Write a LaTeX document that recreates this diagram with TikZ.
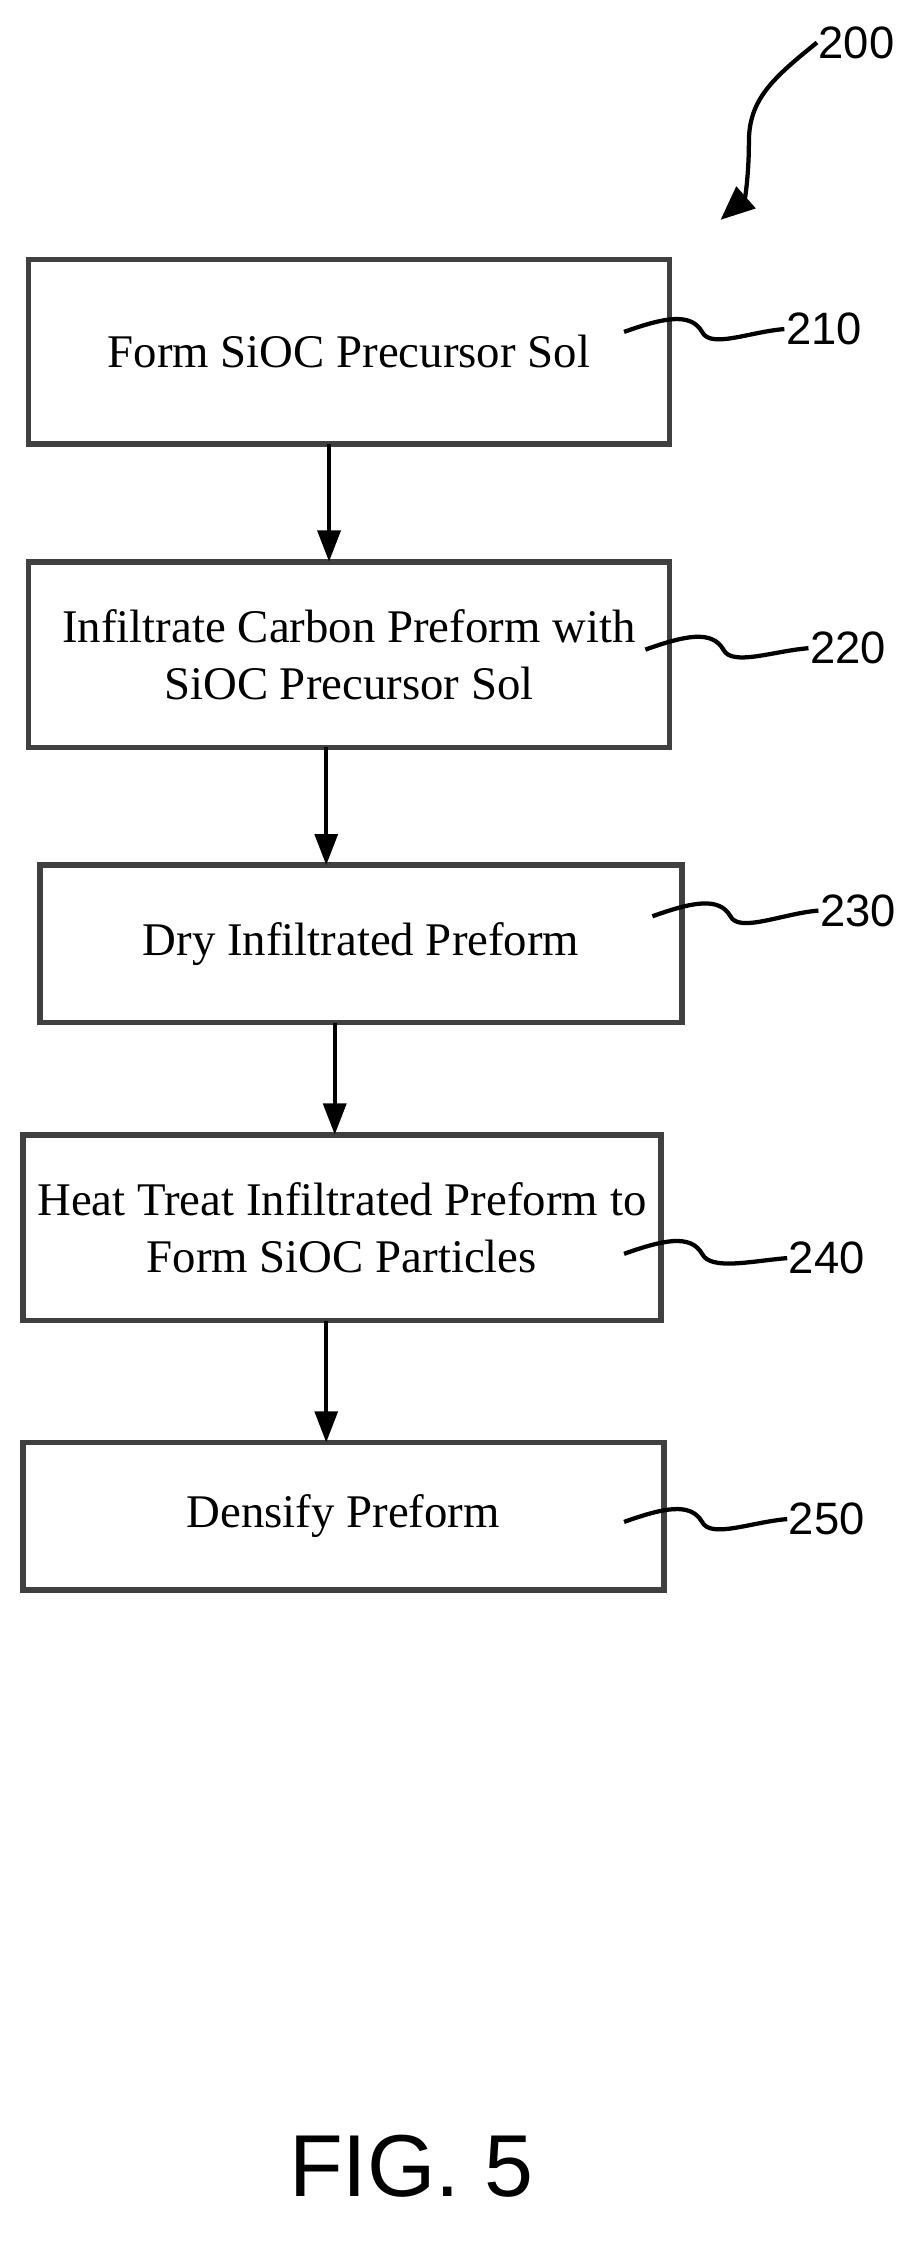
\documentclass[tikz,border=0pt]{standalone}
\usepackage{fontspec}
\setmainfont{Liberation Serif}
\setsansfont{Liberation Sans}
\usetikzlibrary{arrows.meta}
\begin{document}
\begin{tikzpicture}[x=1pt,y=-1pt,
  box/.style={draw=black!75,line width=4pt,inner sep=0pt,align=center,font=\fontsize{33}{40}\selectfont},
  arr/.style={line width=3pt,-{Triangle[length=22pt,width=16pt]}},
  sq/.style={line width=3pt},
  lab/.style={font=\sffamily\fontsize{32}{32}\selectfont,inner sep=1pt}]
\useasboundingbox (0,0) rectangle (650,1580);
\node[box,minimum width=452pt,minimum height=130pt] (b1) at (246,248) {Form SiOC Precursor Sol};
\node[box,minimum width=452pt,minimum height=131pt] (b2) at (246,461.5) {Infiltrate Carbon Preform with\\SiOC Precursor Sol};
\node[box,minimum width=453pt,minimum height=111pt] (b3) at (254.5,665.5) {Dry Infiltrated Preform};
\node[box,minimum width=450pt,minimum height=131pt] (b4) at (241,865.5) {Heat Treat Infiltrated Preform to\\Form SiOC Particles};
\node[box,minimum width=452pt,minimum height=104pt] (b5) at (242,1069) {Densify Preform};
\draw[arr] (232,313) -- (232,396);
\draw[arr] (230,527) -- (230,610);
\draw[arr] (236,721) -- (236,800);
\draw[arr] (230,931) -- (230,1017);
\node[lab,anchor=west] (l0) at (576,30) {200};
\node[lab,anchor=west] (l1) at (553,232) {210};
\node[lab,anchor=west] (l2) at (570,457) {220};
\node[lab,anchor=west] (l3) at (577,642) {230};
\node[lab,anchor=west] (l4) at (555,887) {240};
\node[lab,anchor=west] (l5) at (555,1071) {250};
\coordinate (s1) at (440,234);
\coordinate (s2) at (455,458);
\coordinate (s3) at (460,646);
\coordinate (s4) at (440,884);
\coordinate (s5) at (440,1073);
\foreach \s/\l in {s1/l1,s2/l2,s3/l3,s4/l4,s5/l5}{
  \draw[sq] (\s) .. controls ++(28,-10) and ++(-8,-14) .. ++(55,0) .. controls ++(6,12) and ++(-25,2) .. (\l.west);
}
\draw[line width=3pt,-{Triangle[length=24pt,width=20pt]}] (l0.west) .. controls (545,55) and (528,70) .. (528,100) .. controls (528,125) and (525,140) .. (508,155);
\node[font=\sffamily\fontsize{62}{62}\selectfont] (fig) at (290,1527) {FIG. 5};
\end{tikzpicture}
\end{document}
